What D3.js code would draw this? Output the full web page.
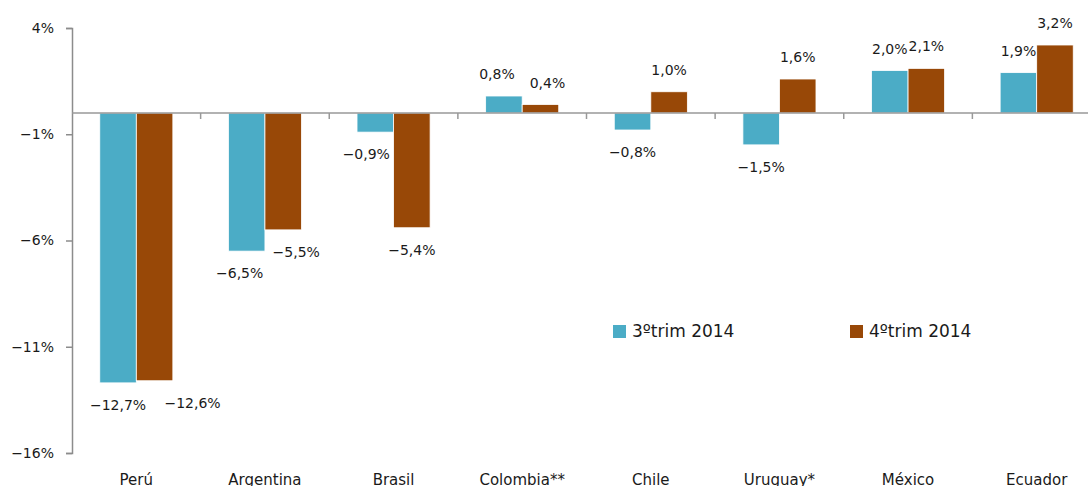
<!DOCTYPE html>
<html>
<head>
<meta charset="utf-8">
<script src="https://cdn.jsdelivr.net/npm/d3@7"></script>
<style>
  body { margin: 0; background: #fff; }
  svg text { font-family: "DejaVu Sans", sans-serif; fill: #1a1a1a; }
</style>
</head>
<body>
<div id="chart"></div>
<script>
var countries = ["Perú", "Argentina", "Brasil", "Colombia**", "Chile", "Uruguay*", "México", "Ecuador"];
var series = ["3ºtrim 2014", "4ºtrim 2014"];
var q3Values = [-12.7, -6.5, -0.9, 0.8, -0.8, -1.5, 2.0, 1.9];
var q4Values = [-12.6, -5.5, -5.4, 0.4, 1.0, 1.6, 2.1, 3.2];
var yTicks = [-16, -11, -6, -1, 4];
var colors = ["#4BACC6", "#984807"];

var width = 1088,
    height = 486;

var svg = d3.select("#chart")
    .append("svg")
    .attr("width", width)
    .attr("height", height);

var x = d3.scaleBand()
    .domain(countries)
    .range([72, 1101]);

var xs = d3.scaleBand()
    .domain(series)
    .range([0, x.bandwidth()])
    .paddingInner(0)
    .paddingOuter(0.76);

var y = d3.scaleLinear()
    .domain([-16, 4])
    .range([453, 28]);

var fmt = function (v) {
    return (v < 0 ? "\u2212" : "") + Math.abs(v).toFixed(1).replace(".", ",") + "%";
};

// y axis
var yAxis = d3.axisLeft(y)
    .tickValues(yTicks)
    .tickSize(6)
    .tickFormat(function (d) { return (d < 0 ? "\u2212" : "") + Math.abs(d) + "%"; });

var gy = svg.append("g")
    .attr("transform", "translate(72,0)")
    .call(yAxis);
gy.select(".domain").attr("stroke", "#8c8c8c").attr("stroke-width", 1.5);
gy.selectAll(".tick line").attr("stroke", "#8c8c8c").attr("stroke-width", 1.5);
gy.selectAll(".tick text")
    .attr("x", -18)
    .style("font-size", "14px")
    .style("font-family", "DejaVu Sans, sans-serif")
    .attr("fill", "#1a1a1a");

var data = [];
countries.forEach(function (c, i) {
    data.push({country: c, key: series[0], value: q3Values[i], s: 0});
    data.push({country: c, key: series[1], value: q4Values[i], s: 1});
});

// bars
svg.append("g")
    .selectAll("rect")
    .data(data)
    .join("rect")
    .attr("x", function (d) { return x(d.country) + xs(d.key); })
    .attr("width", xs.bandwidth())
    .attr("y", function (d) { return y(Math.max(0, d.value)); })
    .attr("height", function (d) { return Math.abs(y(d.value) - y(0)); })
    .attr("fill", function (d) { return colors[d.s]; })
    .attr("stroke", "#fff")
    .attr("stroke-width", 0.8);

// zero line with category ticks
var gx = svg.append("g");
gx.append("line")
    .attr("x1", 72).attr("x2", width)
    .attr("y1", y(0)).attr("y2", y(0))
    .attr("stroke", "#999")
    .attr("stroke-width", 1.5);
gx.selectAll(".ct")
    .data(countries.slice(1))
    .join("line")
    .attr("class", "ct")
    .attr("x1", function (d) { return x(d); })
    .attr("x2", function (d) { return x(d); })
    .attr("y1", y(0))
    .attr("y2", y(0) + 6)
    .attr("stroke", "#999")
    .attr("stroke-width", 1.5);

// category labels
svg.append("g")
    .selectAll("text")
    .data(countries)
    .join("text")
    .attr("x", function (d) { return x(d) + x.bandwidth() / 2; })
    .attr("y", 485)
    .attr("text-anchor", "middle")
    .style("font-size", "15px")
    .text(function (d) { return d; });

// value labels (a couple nudged sideways like the original)
var nudge = {"Perú|1": 38, "Argentina|1": 13, "Argentina|0": -7, "Brasil|0": -9, "Colombia**|0": -7, "Colombia**|1": 7};
svg.append("g")
    .selectAll("text")
    .data(data)
    .join("text")
    .attr("x", function (d) {
        var cx = x(d.country) + xs(d.key) + xs.bandwidth() / 2;
        return cx + (nudge[d.country + "|" + d.s] || 0);
    })
    .attr("y", function (d) { return d.value < 0 ? y(d.value) + 27 : y(d.value) - 17; })
    .attr("text-anchor", "middle")
    .style("font-size", "14px")
    .text(function (d) { return fmt(d.value); });

// legend
var legend = svg.append("g")
    .selectAll("g")
    .data(series)
    .join("g")
    .attr("transform", function (d, i) { return "translate(" + (613 + i * 237) + ",325)"; });
legend.append("rect")
    .attr("width", 13)
    .attr("height", 13)
    .attr("fill", function (d, i) { return colors[i]; });
legend.append("text")
    .attr("x", 19)
    .attr("y", 12)
    .style("font-size", "17px")
    .text(function (d) { return d; });
</script>
</body>
</html>
